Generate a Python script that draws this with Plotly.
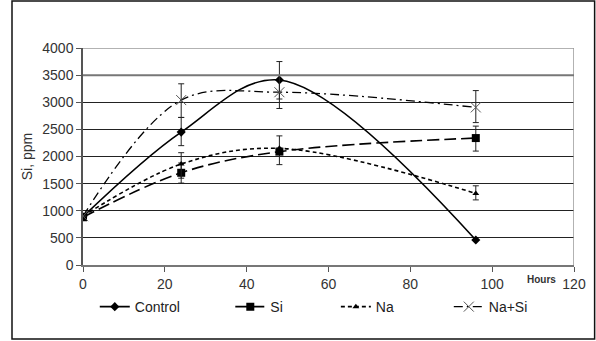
import plotly.graph_objects as go

hours = [0, 24, 48, 96]
control = [890, 2450, 3410, 460]
control_err_plus = [0, 270, 340, 0]
control_err_minus = [0, 250, 350, 0]
si = [880, 1700, 2090, 2340]
si_err_plus = [0, 180, 290, 220]
si_err_minus = [0, 190, 240, 240]
na = [900, 1860, 2150, 1320]
na_err_plus = [0, 210, 0, 140]
na_err_minus = [0, 260, 0, 120]
nasi = [900, 3040, 3185, 2905]
nasi_err_plus = [0, 300, 310, 310]
nasi_err_minus = [0, 320, 300, 280]

yticks = [0, 500, 1000, 1500, 2000, 2500, 3000, 3500, 4000]
xticks = [0, 20, 40, 60, 80, 100, 120]

FONT = "Liberation Sans, Arial, sans-serif"

def eb(p, m):
    return dict(type="data", array=p, arrayminus=m, color="#222222", thickness=1, width=3, visible=True)

fig = go.Figure()
fig.add_trace(go.Scatter(x=hours, y=control, name="Control", mode="lines+markers", legend="legend",
                         line=dict(color="black", width=1.6, shape="spline", smoothing=1.0, dash="solid"),
                         marker=dict(symbol="diamond", size=7, color="black"),
                         error_y=eb(control_err_plus, control_err_minus)))
fig.add_trace(go.Scatter(x=hours, y=si, name="Si", mode="lines+markers", legend="legend2",
                         line=dict(color="black", width=1.6, shape="spline", smoothing=1.0, dash="12px,5px"),
                         marker=dict(symbol="square", size=8, color="black"),
                         error_y=eb(si_err_plus, si_err_minus)))
fig.add_trace(go.Scatter(x=hours, y=na, name="Na", mode="lines+markers", legend="legend3",
                         line=dict(color="black", width=1.6, shape="spline", smoothing=1.0, dash="4px,3px"),
                         marker=dict(symbol="triangle-up", size=6, color="black"),
                         error_y=eb(na_err_plus, na_err_minus)))
fig.add_trace(go.Scatter(x=hours, y=nasi, name="Na+Si", mode="lines+markers", legend="legend4",
                         line=dict(color="black", width=1.3, shape="spline", smoothing=1.0, dash="9px,4px,2px,4px"),
                         marker=dict(symbol="x-thin-open", size=10, color="#555555", line=dict(width=1, color="#555555")),
                         error_y=eb(nasi_err_plus, nasi_err_minus)))

def leg(x):
    return dict(orientation="h", x=x, xanchor="left", y=-0.12, yanchor="top",
                font=dict(family=FONT, size=14, color="#222222"), bgcolor="rgba(0,0,0,0)")

fig.update_layout(
    width=596, height=341,
    margin=dict(l=83, r=22, t=48, b=76),
    paper_bgcolor="white", plot_bgcolor="white",
    font=dict(family=FONT, size=14, color="#222222"),
    showlegend=True,
    legend=leg(0.024), legend2=leg(0.300), legend3=leg(0.515), legend4=leg(0.745),
    xaxis=dict(range=[0, 120], tickvals=xticks, ticks="outside", ticklen=5, tickcolor="#555555",
               showgrid=False, zeroline=False, showline=True, linecolor="#777777", linewidth=1.5,
               mirror=False, tickfont=dict(size=14, color="#333333"), automargin=False),
    yaxis=dict(range=[0, 4000], tickvals=yticks, ticks="outside", ticklen=5, tickcolor="#555555",
               showgrid=True, gridcolor="#222222", gridwidth=1, zeroline=False,
               showline=True, linecolor="#555555", linewidth=1.5, automargin=False,
               tickfont=dict(size=14, color="#333333"),
               title=dict(text="Si, ppm", font=dict(size=14, color="#333333"), standoff=6)),
    shapes=[
        dict(type="line", xref="x", yref="y", x0=120, x1=120, y0=0, y1=4000, line=dict(color="#999999", width=1.5)),
        dict(type="line", xref="x", yref="y", x0=0, x1=120, y0=4000, y1=4000, line=dict(color="#999999", width=1.5)),
        dict(type="line", xref="x", yref="y", x0=0, x1=120, y0=3500, y1=3500, line=dict(color="#777777", width=2)),
        dict(type="rect", xref="paper", yref="paper", x0=-0.1446, x1=1.042, y0=-0.341, y1=1.2166,
             line=dict(color="#111111", width=1.5), layer="below"),
    ],
    annotations=[
        dict(text="<b>Hours</b>", x=116, xref="x", xanchor="right", y=-0.03, yref="paper", yanchor="top",
             showarrow=False, font=dict(size=10, color="#333333")),
    ],
)

fig.write_html("out.html")
